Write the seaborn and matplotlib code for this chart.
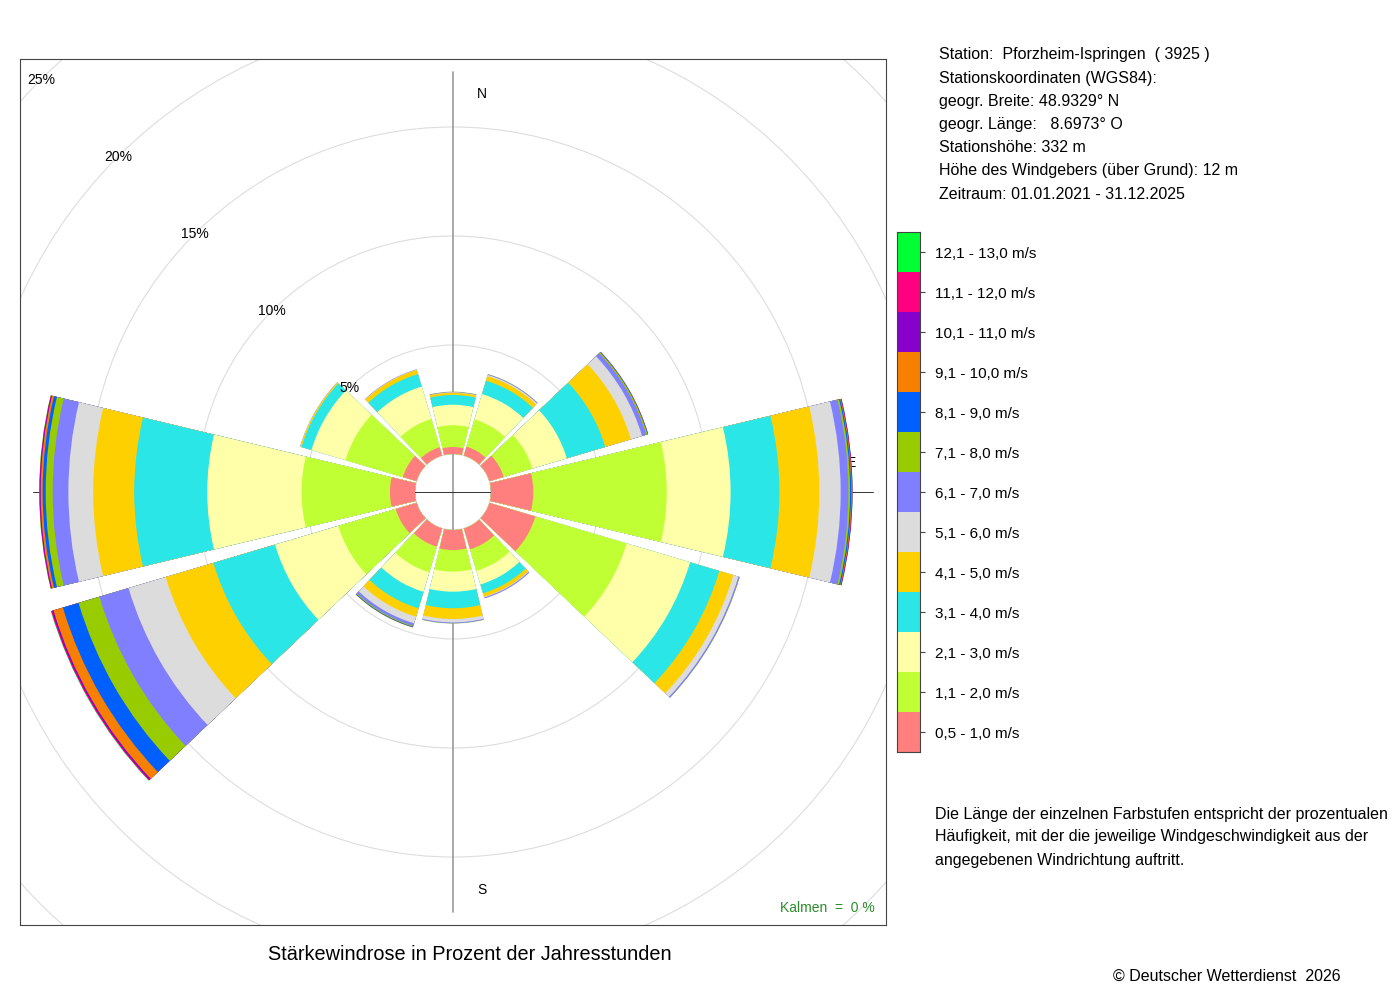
import numpy as np
import pandas as pd
import matplotlib
matplotlib.use('Agg')
import matplotlib.pyplot as plt
from matplotlib.patches import Wedge, Circle
from matplotlib.colors import ListedColormap
import seaborn as sns

# speed classes (bottom to top in the legend)
speed_labels = ['0,5 - 1,0 m/s', '1,1 - 2,0 m/s', '2,1 - 3,0 m/s', '3,1 - 4,0 m/s',
                '4,1 - 5,0 m/s', '5,1 - 6,0 m/s', '6,1 - 7,0 m/s', '7,1 - 8,0 m/s',
                '8,1 - 9,0 m/s', '9,1 - 10,0 m/s', '10,1 - 11,0 m/s', '11,1 - 12,0 m/s',
                '12,1 - 13,0 m/s']
speed_colors = ['#ff7f7f', '#bfff33', '#ffffaa', '#2ae6e6', '#ffd000', '#dcdcdc',
                '#7f7fff', '#99cc00', '#0060ff', '#f78000', '#8800cc', '#ff0080',
                '#00ff33']

# wind directions (degrees from north, clockwise)
directions = [0, 30, 60, 90, 120, 150, 180, 210, 240, 270, 300, 330]

# percent of hours per speed class, one list per direction
freq_000 = [0.32, 1.00, 0.94, 0.45, 0.10, 0.02, 0.02, 0.01, 0, 0, 0, 0, 0]
freq_030 = [0.43, 1.30, 1.21, 0.64, 0.22, 0.06, 0.03, 0.01, 0, 0, 0, 0, 0]
freq_060 = [0.68, 1.37, 1.65, 1.84, 1.23, 0.53, 0.20, 0.06, 0.02, 0.01, 0.01, 0, 0]
freq_090 = [1.94, 6.12, 2.93, 2.24, 1.83, 0.98, 0.35, 0.08, 0.05, 0.03, 0.02, 0.01, 0.01]
freq_120 = [2.20, 4.36, 3.04, 1.40, 0.67, 0.24, 0.06, 0.01, 0, 0, 0, 0, 0]
freq_150 = [1.00, 1.03, 0.65, 0.42, 0.17, 0.03, 0.05, 0, 0, 0, 0, 0, 0]
freq_180 = [0.92, 0.99, 0.92, 0.76, 0.49, 0.16, 0.04, 0.01, 0, 0, 0, 0, 0]
freq_210 = [0.87, 1.23, 0.93, 0.79, 0.40, 0.32, 0.12, 0.04, 0.03, 0.01, 0, 0, 0]
freq_240 = [1.00, 2.74, 3.03, 2.95, 2.28, 1.78, 1.39, 1.00, 0.75, 0.45, 0.07, 0.04, 0.02]
freq_270 = [1.15, 4.05, 4.33, 3.35, 1.88, 1.14, 0.72, 0.32, 0.14, 0.09, 0.04, 0.02, 0.01]
freq_300 = [0.66, 2.74, 1.63, 0.47, 0.06, 0.01, 0.01, 0, 0, 0, 0, 0, 0]
freq_330 = [0.40, 1.35, 1.55, 0.60, 0.20, 0.01, 0.02, 0, 0, 0, 0, 0, 0]

rings = [5, 10, 15, 20, 25]
calm = 0

info_lines = ['Station:  Pforzheim-Ispringen  ( 3925 )',
              'Stationskoordinaten (WGS84):',
              'geogr. Breite: 48.9329° N',
              'geogr. Länge:   8.6973° O',
              'Stationshöhe: 332 m',
              'Höhe des Windgebers (über Grund): 12 m',
              'Zeitraum: 01.01.2021 - 31.12.2025']
note_lines = ['Die Länge der einzelnen Farbstufen entspricht der prozentualen',
              'Häufigkeit, mit der die jeweilige Windgeschwindigkeit aus der',
              'angegebenen Windrichtung auftritt.']

df = pd.DataFrame([freq_000, freq_030, freq_060, freq_090, freq_120, freq_150,
                   freq_180, freq_210, freq_240, freq_270, freq_300, freq_330],
                  index=directions, columns=speed_labels)

sns.set_style('white')
plt.rcParams['font.family'] = ['Liberation Sans', 'DejaVu Sans']
plt.rcParams['text.color'] = 'black'
plt.rcParams['ytick.labelcolor'] = 'black'

fig = plt.figure(figsize=(14, 10), dpi=100)
ax = fig.add_axes([20 / 1400, 75 / 1000, 866 / 1400, 866 / 1000])

hole = 38 / 21.8          # empty centre, in percent units
lim = 433 / 21.8
ax.set_xlim(-lim, lim)
ax.set_ylim(-lim, lim)
ax.set_aspect('equal')
ax.set_xticks([])
ax.set_yticks([])
for s in ax.spines.values():
    s.set_color('#444444')
    s.set_linewidth(0.8)

# rings
for p in [0] + rings:
    ax.add_patch(Circle((0, 0), hole + p, fill=False, ec='#dddddd', lw=0.8, zorder=1))

# cross
arm = 420 / 21.8
ax.plot([0, 0], [-arm, arm], color='#999999', lw=1.2, zorder=1.5)
ax.plot([-arm, arm], [0, 0], color='#333333', lw=0.7, zorder=1.5)

# compass letters (partly hidden by bars, like the original)
r_lab = 398 / 21.8
off = 29 / 21.8
for name, ang in zip(['N', 'E', 'S', 'W'], [0, 90, 180, 270]):
    a = np.deg2rad(ang)
    x = r_lab * np.sin(a) + off * abs(np.cos(a))
    y = r_lab * np.cos(a) + off * abs(np.sin(a))
    ax.text(x, y, name, ha='center', va='center', fontsize=10, zorder=2)

# bars: draw cumulative wedges from outermost class inwards
half = 13.5
for d in directions:
    cum = df.loc[d].cumsum().values
    vals = df.loc[d].values
    for k in range(len(speed_labels) - 1, -1, -1):
        if vals[k] <= 0:
            continue
        ax.add_patch(Wedge((0, 0), hole + cum[k], 90 - d - half, 90 - d + half,
                           width=cum[k], fc=speed_colors[k], ec='none', lw=0, zorder=3))

# ring labels along NW diagonal
for p in rings:
    rr = hole + p
    ax.text(-rr * np.sin(np.pi / 4), rr * np.cos(np.pi / 4), f'{p}%',
            ha='center', va='center', fontsize=10, zorder=5)

ax.text(0.987, 0.0196, f'Kalmen  =  {calm} %', transform=ax.transAxes,
        ha='right', va='center', color='#2a8c2a', fontsize=10)

# legend as a one-column heatmap
lax = fig.add_axes([897 / 1400, 248 / 1000, 23 / 1400, 520 / 1000])
legend_df = pd.DataFrame({'v': np.arange(len(speed_labels))[::-1]},
                         index=speed_labels[::-1])
sns.heatmap(legend_df, ax=lax, cmap=ListedColormap(speed_colors), cbar=False,
            vmin=-0.5, vmax=len(speed_labels) - 0.5,
            xticklabels=False, yticklabels=True)
lax.yaxis.tick_right()
lax.tick_params(axis='y', length=3.6, width=0.8, pad=7, labelsize=11,
                labelrotation=0, color='#444444', labelcolor='black', right=True, left=False)
lax.set_ylabel('')
for s in lax.spines.values():
    s.set_visible(True)
    s.set_color('#444444')
    s.set_linewidth(0.8)

# text blocks
for i, line in enumerate(info_lines):
    fig.text(939 / 1400, 1 - (55 + i * 23.2) / 1000, line, ha='left', va='center',
             fontsize=11.5, color='black')
for i, line in enumerate(note_lines):
    fig.text(935 / 1400, 1 - (814 + i * 23) / 1000, line, ha='left', va='center',
             fontsize=11.5, color='black')

fig.text(470 / 1400, 1 - 954 / 1000, 'Stärkewindrose in Prozent der Jahresstunden',
         ha='center', va='center', fontsize=14.3, color='black')
fig.text(1341 / 1400, 1 - 976 / 1000, '© Deutscher Wetterdienst  2026',
         ha='right', va='center', fontsize=11.5, color='black')

fig.savefig('out.png', dpi=100)
